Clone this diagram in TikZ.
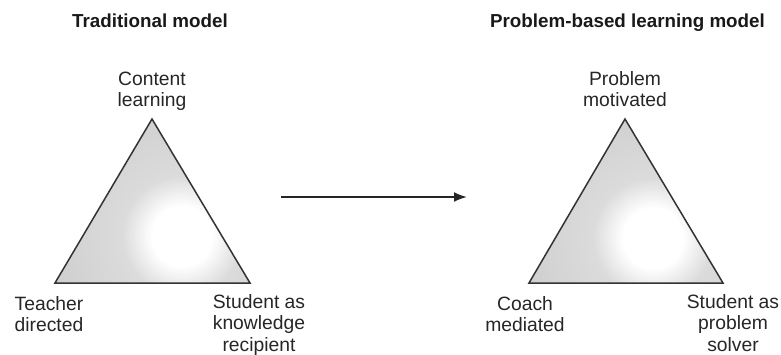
\documentclass[tikz,border=0pt]{standalone}
\usepackage{fontspec}
\setmainfont{Liberation Sans}
\pgfdeclareradialshading{glow}{\pgfpoint{0bp}{0bp}}{color(0bp)=(white); color(5bp)=(white); color(10bp)=(black!14); color(20bp)=(black!18); color(50bp)=(black!26)}
\tikzset{
  lbl/.style={font=\fontsize{19.3}{21.5}\selectfont, text=black!85, align=center, inner sep=0pt, anchor=base},
  ttl/.style={font=\fontsize{18.8}{21.7}\selectfont\bfseries, text=black!90, inner sep=0pt, anchor=base},
  tri/.style={draw=black!80, line width=1.5pt, line join=miter},
  conn/.style={draw=black!85, line width=2pt, -{Latex[length=13pt,width=10pt]}}
}
\usetikzlibrary{arrows.meta}
\begin{document}
\begin{tikzpicture}[x=1pt,y=-1pt]
\useasboundingbox (0,0) rectangle (781,355);
% titles
\node[ttl] (t1) at (150,28) {Traditional model};
\node[ttl] (t2) at (627.5,28) {Problem-based learning model};
% left triangle
\coordinate (a1) at (152,119);
\coordinate (b1) at (55,283);
\coordinate (c1) at (250,283);
\begin{scope}
\clip (a1) -- (b1) -- (c1) -- cycle;
\shade[shading=glow] (32,86) rectangle (332,386);
\end{scope}
\draw[tri] (a1) -- (b1) -- (c1) -- cycle;
% right triangle
\coordinate (a2) at (625,119);
\coordinate (b2) at (529,283);
\coordinate (c2) at (723,283);
\begin{scope}
\clip (a2) -- (b2) -- (c2) -- cycle;
\shade[shading=glow] (503,88) rectangle (803,388);
\end{scope}
\draw[tri] (a2) -- (b2) -- (c2) -- cycle;
% labels (anchor = baseline of last line)
\node[lbl] (l1) at (152,107) {Content\\learning};
\node[lbl] (l2) at (49,331.5) {Teacher\\directed};
\node[lbl] (l3) at (259,351) {Student as\\knowledge\\recipient};
\node[lbl] (r1) at (625,107) {Problem\\motivated};
\node[lbl] (r2) at (525,331.5) {Coach\\mediated};
\node[lbl] (r3) at (733,351) {Student as\\problem\\solver};
% arrow
\coordinate (s) at (281,197);
\coordinate (e) at (467,197);
\draw[conn] (s) -- (e);
\end{tikzpicture}
\end{document}
